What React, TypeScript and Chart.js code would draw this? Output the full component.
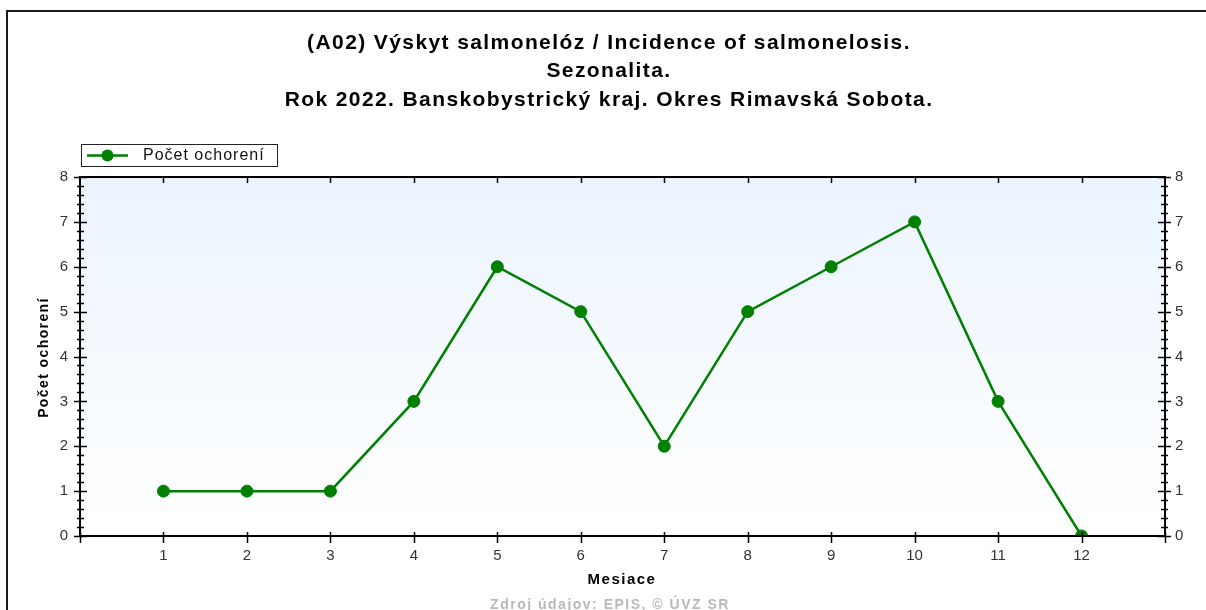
import React, { useEffect, useRef } from "react";
import { Chart, registerables } from "chart.js";

Chart.register(...registerables);

const months = [1, 2, 3, 4, 5, 6, 7, 8, 9, 10, 11, 12];
const cases = [1, 1, 1, 3, 6, 5, 2, 5, 6, 7, 3, 0];
const titleLines = [
  "(A02) Výskyt salmonelóz / Incidence of salmonelosis.",
  "Sezonalita.",
  "Rok 2022. Banskobystrický kraj. Okres Rimavská Sobota.",
];
const seriesLabel = "Počet ochorení";
const xAxisTitle = "Mesiace";
const yAxisTitle = "Počet ochorení";
const footerText = "Zdroj údajov: EPIS, © ÚVZ SR";
const yMin = 0;
const yMax = 8;
const xMin = 0;
const xMax = 13;

const FONT = "'Liberation Sans', Arial, sans-serif";
const GREEN = "#008000";

function setSpacing(ctx: CanvasRenderingContext2D, px: number) {
  (ctx as any).letterSpacing = px + "px";
}

const decorPlugin = {
  id: "decor",
  beforeDatasetsDraw(chart: any) {
    const { ctx, chartArea } = chart;
    const { left, top, right, bottom } = chartArea;
    ctx.save();
    const g = ctx.createLinearGradient(0, top, 0, bottom);
    g.addColorStop(0, "#ebf4fe");
    g.addColorStop(1, "#ffffff");
    ctx.fillStyle = g;
    ctx.fillRect(left, top, right - left, bottom - top);
    ctx.restore();
  },
  afterDraw(chart: any) {
    const { ctx, chartArea } = chart;
    const { left, top, right, bottom } = chartArea;
    const xs = chart.scales.x;
    const ys = chart.scales.y;
    ctx.save();

    // outer frame
    ctx.fillStyle = "#1a1a1a";
    ctx.fillRect(6, 10, 1200, 2);
    ctx.fillRect(6, 10, 2, 600);

    // plot frame
    ctx.strokeStyle = "#000";
    ctx.lineWidth = 2;
    ctx.strokeRect(left, top, right - left, bottom - top);

    // tick marks
    ctx.lineWidth = 1.5;
    ctx.beginPath();
    for (let v = xMin; v <= xMax; v++) {
      const px = Math.round(xs.getPixelForValue(v)) + 0.5;
      ctx.moveTo(px, bottom - 4);
      ctx.lineTo(px, bottom + 7);
      if (v > xMin && v < xMax) {
        ctx.moveTo(px, top);
        ctx.lineTo(px, top + 6);
      }
    }
    for (let i = yMin * 5; i <= yMax * 5; i++) {
      const v = i / 5;
      const py = Math.round(ys.getPixelForValue(v)) + 0.5;
      const major = i % 5 === 0;
      if (major) {
        ctx.moveTo(left - 6, py);
        ctx.lineTo(left + 7, py);
        ctx.moveTo(right - 7, py);
        ctx.lineTo(right + 6, py);
      } else {
        ctx.moveTo(left - 3, py);
        ctx.lineTo(left + 4, py);
        ctx.moveTo(right - 4, py);
        ctx.lineTo(right + 3, py);
      }
    }
    ctx.stroke();

    // title
    ctx.fillStyle = "#000";
    ctx.textAlign = "center";
    ctx.textBaseline = "alphabetic";
    ctx.font = `bold 21px ${FONT}`;
    setSpacing(ctx, 1.4);
    const baselines = [49, 77, 106];
    titleLines.forEach((t, i) => ctx.fillText(t, 609, baselines[i]));

    // legend
    setSpacing(ctx, 0);
    ctx.lineWidth = 1;
    ctx.strokeStyle = "#222";
    ctx.strokeRect(81.5, 144.5, 196, 22);
    ctx.strokeStyle = GREEN;
    ctx.lineWidth = 2.5;
    ctx.beginPath();
    ctx.moveTo(87, 155.5);
    ctx.lineTo(128, 155.5);
    ctx.stroke();
    ctx.fillStyle = GREEN;
    ctx.beginPath();
    ctx.arc(107.5, 155.5, 6, 0, Math.PI * 2);
    ctx.fill();
    ctx.fillStyle = "#111";
    ctx.textAlign = "left";
    ctx.textBaseline = "middle";
    ctx.font = `16px ${FONT}`;
    setSpacing(ctx, 1);
    ctx.fillText(seriesLabel, 143, 156);

    // x axis title
    ctx.textAlign = "center";
    ctx.textBaseline = "alphabetic";
    ctx.font = `bold 15px ${FONT}`;
    setSpacing(ctx, 1.5);
    ctx.fillStyle = "#000";
    ctx.fillText(xAxisTitle, 622, 584);

    // y axis title
    ctx.save();
    ctx.translate(48, (top + bottom) / 2 + 1);
    ctx.rotate(-Math.PI / 2);
    ctx.font = `bold 14px ${FONT}`;
    setSpacing(ctx, 1.4);
    ctx.fillText(yAxisTitle, 0, 0);
    ctx.restore();

    // footer
    ctx.fillStyle = "#b8b8b8";
    ctx.font = `bold 14px ${FONT}`;
    setSpacing(ctx, 1.5);
    ctx.fillText(footerText, 610, 609);

    ctx.restore();
  },
};

export default function App() {
  const canvasRef = useRef<HTMLCanvasElement | null>(null);

  useEffect(() => {
    if (!canvasRef.current) return;
    const tickFont = { family: FONT, size: 15 };
    const chart = new Chart(canvasRef.current, {
      type: "line",
      data: {
        datasets: [
          {
            label: seriesLabel,
            data: months.map((m, i) => ({ x: m, y: cases[i] })),
            borderColor: GREEN,
            backgroundColor: GREEN,
            borderWidth: 2.5,
            pointRadius: 6,
            pointBorderWidth: 1,
            pointBorderColor: GREEN,
            pointBackgroundColor: GREEN,
            tension: 0,
            clip: 0,
          } as any,
        ],
      },
      options: {
        animation: false,
        responsive: false,
        devicePixelRatio: 1,
        layout: { padding: { left: 8, top: 177, right: 0, bottom: 0 } },
        plugins: {
          legend: { display: false },
          title: { display: false },
          tooltip: { enabled: false },
        },
        scales: {
          x: {
            type: "linear",
            position: "bottom",
            min: xMin,
            max: xMax,
            grid: { display: false, drawTicks: false },
            border: { display: false },
            ticks: {
              stepSize: 1,
              autoSkip: false,
              maxRotation: 0,
              padding: 11,
              color: "#333",
              font: tickFont,
              callback: (v: any) => (v >= 1 && v <= 12 ? String(v) : ""),
            },
            afterFit: (s: any) => {
              s.height = 74;
            },
          },
          y: {
            type: "linear",
            position: "left",
            min: yMin,
            max: yMax,
            grid: { display: false, drawTicks: false },
            border: { display: false },
            ticks: { stepSize: 1, padding: 12, color: "#333", font: tickFont },
            afterFit: (s: any) => {
              s.width = 72;
            },
          },
          y2: {
            type: "linear",
            position: "right",
            min: yMin,
            max: yMax,
            grid: { display: false, drawTicks: false },
            border: { display: false },
            ticks: { stepSize: 1, padding: 10, color: "#333", font: tickFont },
            afterFit: (s: any) => {
              s.width = 41;
            },
          },
        },
      } as any,
      plugins: [decorPlugin],
    });
    return () => chart.destroy();
  }, []);

  return (
    <div style={{ position: "absolute", left: 0, top: 0, width: 1206, height: 610, background: "#fff" }}>
      <canvas ref={canvasRef} width={1206} height={610} style={{ display: "block" }} />
    </div>
  );
}
